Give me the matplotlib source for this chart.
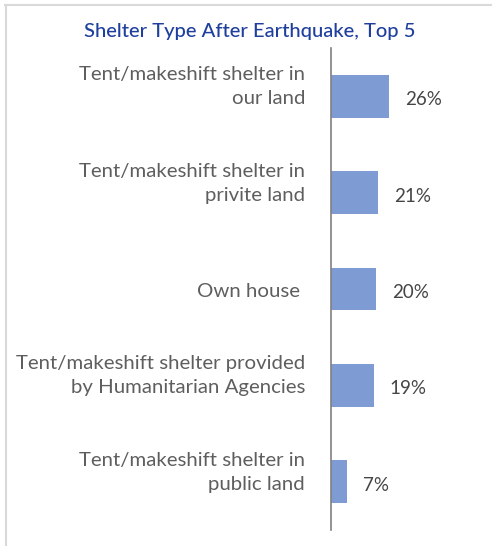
import matplotlib
matplotlib.use("Agg")
import matplotlib.pyplot as plt
from matplotlib import transforms
from matplotlib.lines import Line2D

categories = [
    "Tent/makeshift shelter in\nour land",
    "Tent/makeshift shelter in\nprivite land",
    "Own house ",
    "Tent/makeshift shelter provided\nby Humanitarian Agencies",
    "Tent/makeshift shelter in\npublic land",
]
values = [26, 21, 20, 19, 7]
value_labels = ["26%", "21%", "20%", "19%", "7%"]
title = "Shelter Type After Earthquake, Top 5"

W, H, DPI = 492, 546, 100
FONT = "Lato"
BAR_COLOR = "#7F9BD3"
LABEL_COLOR = "#5E5E5E"
VALUE_COLOR = "#454545"
TITLE_COLOR = "#1E3F9E"

fig = plt.figure(figsize=(W / DPI, H / DPI), dpi=DPI)
renderer = fig.canvas.get_renderer()


def fit_size(text, target_px, base=16, weight="normal"):
    t = fig.text(0, 0, text, fontsize=base, family=FONT, fontweight=weight)
    w = t.get_window_extent(renderer).width
    t.remove()
    return base * target_px / w


label_fs = fit_size("Tent/makeshift shelter in", 228)
title_fs = fit_size(title, 333, weight="medium")
value_fs = fit_size("26%", 37)

# axes: left at x=331px, spanning y 48..530 px
ax_left, ax_right = 331, 491
ax_top, ax_bot = 48, 530
ax = fig.add_axes([ax_left / W, 1 - ax_bot / H, (ax_right - ax_left) / W, (ax_bot - ax_top) / H])
px_per_pct = 2.24
ax.set_xlim(0, (ax_right - ax_left) / px_per_pct)
n = len(categories)
ax.set_ylim(n - 0.5, -0.5)
ypos = list(range(n))
ax.barh(ypos, values, height=0.443, color=BAR_COLOR, zorder=2)

for s in ["top", "right", "bottom"]:
    ax.spines[s].set_visible(False)
ax.spines["left"].set_color("#808080")
ax.spines["left"].set_linewidth(1.2)
ax.set_xticks([])
ax.set_yticks([])
ax.patch.set_alpha(0)


def off(dx_px, dy_px):
    # dy positive downward in pixels
    return transforms.ScaledTranslation(dx_px / DPI, -dy_px / DPI, fig.dpi_scale_trans)


lab_tr = transforms.blended_transform_factory(fig.transFigure, ax.transData)
for i, cat in enumerate(categories):
    lines = cat.split("\n")
    for k, line in enumerate(reversed(lines)):
        ax.text(305 / W, i, line, transform=lab_tr + off(0, 8 - 24 * k),
                ha="right", va="baseline", fontsize=label_fs, family=FONT,
                color=LABEL_COLOR)

for i, (v, lab) in enumerate(zip(values, value_labels)):
    ax.text(v, i, lab, transform=ax.transData + off(16, 9), ha="left", va="baseline",
            fontsize=value_fs, family=FONT, color=VALUE_COLOR)

fig.text(249.5 / W, 1 - 36.7 / H, title, ha="center", va="baseline",
         fontsize=title_fs, family=FONT, fontweight="medium", color=TITLE_COLOR)

# chart frame (top and left edges)
fig.add_artist(Line2D([5 / W, 1.0], [1 - 4.5 / H, 1 - 4.5 / H], transform=fig.transFigure,
                      color="#D9D9D9", linewidth=1.5))
fig.add_artist(Line2D([5.5 / W, 5.5 / W], [0, 1 - 4.5 / H], transform=fig.transFigure,
                      color="#D9D9D9", linewidth=1.5))

fig.savefig("out.png", dpi=DPI)
